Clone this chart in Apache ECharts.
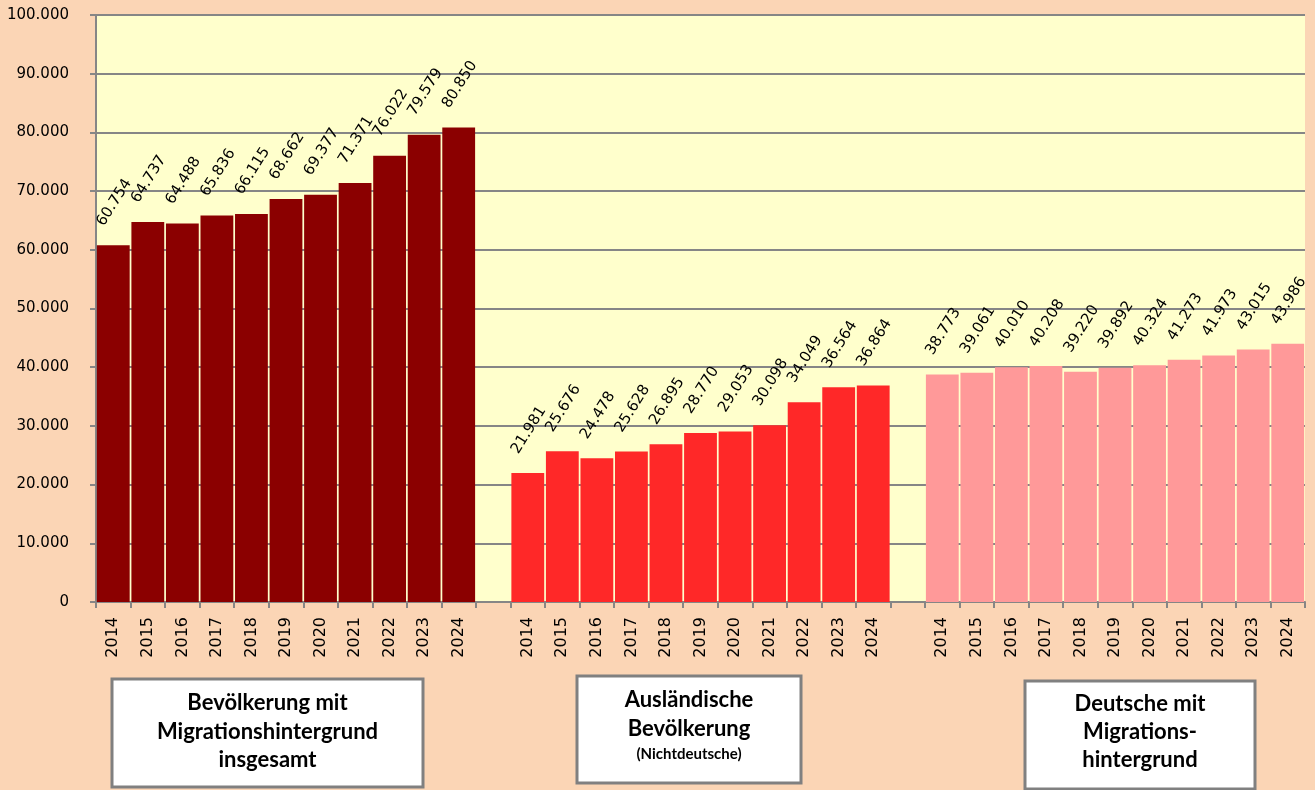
<!DOCTYPE html>
<html>
<head>
<meta charset="utf-8">
<script src="https://cdn.jsdelivr.net/npm/echarts@6/dist/echarts.min.js"></script>
<style>
html,body{margin:0;padding:0;background:#FBD5B5;}
#chart{width:1315px;height:790px;}
</style>
</head>
<body>
<div id="chart"></div>
<script>
var years = ['2014','2015','2016','2017','2018','2019','2020','2021','2022','2023','2024'];
var totalMig = [60754, 64737, 64488, 65836, 66115, 68662, 69377, 71371, 76022, 79579, 80850];
var foreign = [21981, 25676, 24478, 25628, 26895, 28770, 29053, 30098, 34049, 36564, 36864];
var germanMig = [38773, 39061, 40010, 40208, 39220, 39892, 40324, 41273, 41973, 43015, 43986];
var yTicks = [0, 10000, 20000, 30000, 40000, 50000, 60000, 70000, 80000, 90000, 100000];
var groupTitles = [
  ['Bevölkerung mit', 'Migrationshintergrund', 'insgesamt'],
  ['Ausländische', 'Bevölkerung', '(Nichtdeutsche)'],
  ['Deutsche mit', 'Migrations-', 'hintergrund']
];
var colors = ['#8B0000', '#FF2828', '#FF9999'];
var FONT = '"DejaVu Sans", Verdana, sans-serif';

var categories = years.concat([' '], years, ['  '], years);
var n = years.length;
function place(vals, groupIdx) {
  var arr = [];
  for (var i = 0; i < categories.length; i++) arr.push('-');
  for (var j = 0; j < vals.length; j++) arr[groupIdx * (n + 1) + j] = vals[j];
  return arr;
}
function fmt(v) {
  return String(v).replace(/\B(?=(\d{3})+(?!\d))/g, '.');
}
var seriesVals = [totalMig, foreign, germanMig];
var series = seriesVals.map(function (vals, g) {
  return {
    type: 'bar',
    data: place(vals, g),
    barWidth: '95%',
    barGap: '-100%',
    itemStyle: { color: colors[g] },
    label: {
      show: true,
      position: 'top',
      distance: 0,
      rotate: 58,
      align: 'left',
      verticalAlign: 'middle',
      offset: [10.7, -21.8],
      fontFamily: FONT,
      fontSize: 15,
      color: '#000',
      formatter: function (p) { return fmt(p.value); }
    }
  };
});

var chart = echarts.init(document.getElementById('chart'));
var boxes = [
  { x: 112, y: 679, w: 311, h: 108, lines: groupTitles[0], ys: [703, 732, 760], sizes: [22, 22, 22] },
  { x: 577, y: 676, w: 224, h: 107, lines: groupTitles[1], ys: [700, 729, 754], sizes: [22, 22, 15] },
  { x: 1025, y: 681, w: 230, h: 108, lines: groupTitles[2], ys: [704, 732, 760], sizes: [22, 22, 22] }
];
var graphic = [];
boxes.forEach(function (b) {
  graphic.push({
    type: 'rect',
    shape: { x: b.x, y: b.y, width: b.w, height: b.h },
    style: { fill: '#FFFFFF', stroke: '#808080', lineWidth: 3 }
  });
  b.lines.forEach(function (t, i) {
    graphic.push({
      type: 'text',
      x: b.x + b.w / 2,
      y: b.ys[i],
      style: {
        text: t,
        fill: '#000',
        font: 'bold ' + b.sizes[i] + 'px Lato',
        textAlign: 'center',
        textVerticalAlign: 'middle'
      }
    });
  });
});

chart.setOption({
  backgroundColor: '#FBD5B5',
  animation: false,
  grid: {
    left: 96, right: 10, top: 15, bottom: 188,
    show: true, backgroundColor: '#FFFFCC', borderWidth: 0
  },
  xAxis: {
    type: 'category',
    data: categories,
    axisLine: { show: true, lineStyle: { color: '#868686', width: 2 } },
    axisTick: { show: true, length: 6, interval: 0, lineStyle: { color: '#868686', width: 2 } },
    axisLabel: {
      interval: 0, rotate: 90, margin: 15,
      fontFamily: FONT, fontSize: 16, color: '#000'
    },
    splitLine: { show: false }
  },
  yAxis: {
    type: 'value',
    min: yTicks[0],
    max: yTicks[yTicks.length - 1],
    interval: yTicks[1] - yTicks[0],
    axisLine: { show: true, lineStyle: { color: '#868686', width: 2 } },
    axisTick: { show: true, length: 6, lineStyle: { color: '#868686', width: 2 } },
    axisLabel: {
      margin: 27,
      fontFamily: FONT, fontSize: 15, color: '#000',
      formatter: function (v) { return fmt(v); }
    },
    splitLine: { show: true, lineStyle: { color: '#868686', width: 2 } }
  },
  series: series,
  graphic: graphic
});
</script>
</body>
</html>
